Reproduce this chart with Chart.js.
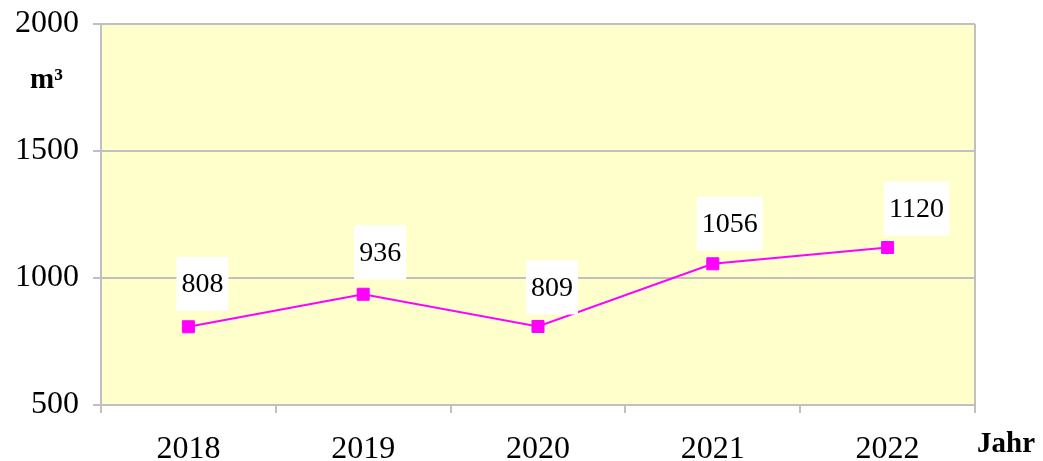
<!DOCTYPE html>
<html>
<head>
<meta charset="utf-8">
<script src="https://cdn.jsdelivr.net/npm/chart.js@4/dist/chart.umd.min.js"></script>
<style>
  html, body { margin: 0; padding: 0; background: #fff; }
  #wrap { width: 1043px; height: 461px; }
</style>
</head>
<body>
<div id="wrap"><canvas id="volChart" width="1043" height="461"></canvas></div>
<script>
const years = ['2018', '2019', '2020', '2021', '2022'];
const volumes = [808, 936, 809, 1056, 1120];
const yTicks = [500, 1000, 1500, 2000];
const yUnit = 'm³';
const xUnit = 'Jahr';

const serif = 'Liberation Serif, Times New Roman, serif';
const lineGray = '#c0c0c0';

// yellow plot area with a thin frame
const plotBg = {
    id: 'plotBg',
    beforeDraw(chart) {
        let a = chart.chartArea, ctx = chart.ctx;
        ctx.save();
        ctx.fillStyle = '#ffffcc';
        ctx.fillRect(a.left, a.top, a.right - a.left, a.bottom - a.top);
        ctx.strokeStyle = lineGray;
        ctx.lineWidth = 2;
        ctx.beginPath();
        ctx.moveTo(a.right, a.top);
        ctx.lineTo(a.right, a.bottom);
        ctx.stroke();
        ctx.restore();
    }
};

// white boxed value labels above the points + unit labels
const valueLabels = {
    id: 'valueLabels',
    afterDatasetsDraw(chart, args, opts) {
        let ctx = chart.ctx;
        let meta = chart.getDatasetMeta(0);
        ctx.save();
        ctx.font = '28px ' + serif;
        ctx.textAlign = 'center';
        ctx.textBaseline = 'middle';
        meta.data.forEach((pt, i) => {
            let txt = String(chart.data.datasets[0].data[i]);
            let w = ctx.measureText(txt).width + 10;
            let h = 54;
            let cx = pt.x + opts.dx[i], cy = pt.y + opts.dy[i];
            ctx.fillStyle = '#ffffff';
            ctx.fillRect(cx - w / 2, cy - h / 2, w, h);
            ctx.fillStyle = '#000';
            ctx.fillText(txt, cx, cy + 1);
        });
        ctx.font = 'bold 29px ' + serif;
        ctx.textAlign = 'left';
        ctx.textBaseline = 'alphabetic';
        ctx.fillText(xUnit, 977, 452);
        ctx.fillText(yUnit, 30, 88);
        ctx.restore();
    }
};

let ctx = document.getElementById('volChart').getContext('2d');
let chart = new Chart(ctx, {
    type: 'line',
    data: {
        labels: years,
        datasets: [{
            data: volumes,
            borderColor: '#ff00ff',
            backgroundColor: '#ff00ff',
            borderWidth: 2,
            pointStyle: 'rect',
            pointRadius: 8.5,
            pointBorderWidth: 1,
            tension: 0
        }]
    },
    options: {
        responsive: false,
        animation: false,
        layout: { padding: { left: 0, right: 68, top: 24, bottom: 0 } },
        plugins: {
            legend: { display: false },
            tooltip: { enabled: false },
            // label box placement relative to each point
            valueLabels: { dx: [14, 17, 14, 17, 29], dy: [-43, -42, -39, -40, -39] }
        },
        scales: {
            x: {
                offset: true,
                grid: { offset: true, drawOnChartArea: false, tickLength: 8, color: lineGray, lineWidth: 2 },
                border: { color: lineGray, width: 2 },
                ticks: { color: '#000', font: { family: serif, size: 32 }, padding: 17 },
                afterFit: s => { s.height = 56; s.paddingLeft = 0; s.paddingRight = 0; }
            },
            y: {
                min: yTicks[0],
                max: yTicks[yTicks.length - 1],
                afterBuildTicks: s => { s.ticks = yTicks.map(v => ({ value: v })); },
                grid: { color: lineGray, lineWidth: 2, tickLength: 8 },
                border: { color: lineGray, width: 2 },
                ticks: { color: '#000', font: { family: serif, size: 32 }, padding: 14, callback: v => String(v) },
                afterFit: s => { s.width = 101; s.paddingTop = 0; s.paddingBottom = 0; }
            }
        }
    },
    plugins: [plotBg, valueLabels]
});
</script>
</body>
</html>
